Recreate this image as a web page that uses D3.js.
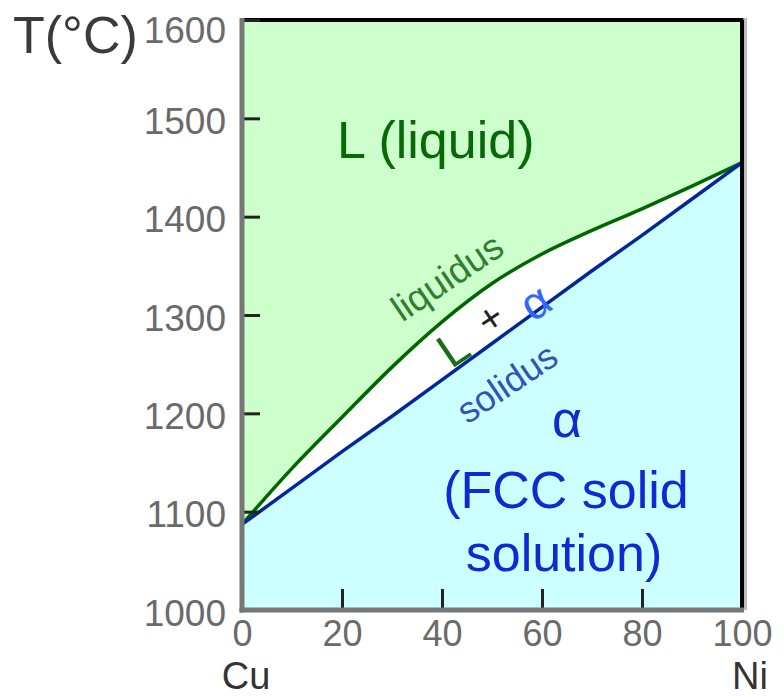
<!DOCTYPE html>
<meta charset="utf-8">
<script src="https://d3js.org/d3.v7.min.js"></script>
<style>
  body { margin: 0; background: #fff; }
  text { font-family: "Liberation Sans", Arial, sans-serif; }
</style>
<div id="my_dataviz"></div>
<script>

// composition, wt% Ni
var composition = [0, 10, 20, 30, 40, 50, 60, 70, 80, 90, 100];
// liquidus and solidus temperatures, deg C
var liquidus = [1087, 1144, 1196, 1247, 1293, 1332, 1362, 1386, 1408, 1431, 1455];
var solidus  = [1087, 1124, 1161, 1197, 1234, 1271, 1308, 1345, 1381, 1418, 1455];
// tick labels
var xTicks = [0, 20, 40, 60, 80, 100];
var yTicks = [1000, 1100, 1200, 1300, 1400, 1500, 1600];

var data = composition.map(function(c, i) {
  return { c: c, liq: liquidus[i], sol: solidus[i] };
});

var W = 784, H = 697;

var svg = d3.select("#my_dataviz")
  .append("svg")
    .attr("width", W)
    .attr("height", H);

var x = d3.scaleLinear().domain([0, 100]).range([242, 742]);
var y = d3.scaleLinear().domain([1000, 1600]).range([610, 20]);

// liquid region (whole plot), then the two phase gap, then alpha region
svg.append("rect")
  .attr("x", x(0)).attr("y", y(1600))
  .attr("width", x(100) - x(0)).attr("height", y(1000) - y(1600))
  .attr("fill", "#ccffcc");

svg.append("path")
  .datum(data)
  .attr("fill", "#ffffff")
  .attr("d", d3.area()
    .curve(d3.curveMonotoneX)
    .x(function(d) { return x(d.c); })
    .y0(function(d) { return y(d.sol); })
    .y1(function(d) { return y(d.liq); }));

svg.append("path")
  .datum(data)
  .attr("fill", "#ccffff")
  .attr("d", d3.area()
    .x(function(d) { return x(d.c); })
    .y0(y(1000))
    .y1(function(d) { return y(d.sol); }));

// phase boundaries
svg.append("path")
  .datum(data)
  .attr("fill", "none")
  .attr("stroke", "#006600")
  .attr("stroke-width", 3.5)
  .attr("d", d3.line()
    .curve(d3.curveMonotoneX)
    .x(function(d) { return x(d.c); })
    .y(function(d) { return y(d.liq); }));

svg.append("path")
  .datum(data)
  .attr("fill", "none")
  .attr("stroke", "#00289c")
  .attr("stroke-width", 3.5)
  .attr("d", d3.line()
    .x(function(d) { return x(d.c); })
    .y(function(d) { return y(d.sol); }));

// frame: grey left/bottom, black top/right with a soft shadow
svg.append("rect")
  .attr("x", x(100) + 2).attr("y", y(1600) - 2)
  .attr("width", 3).attr("height", y(1000) - y(1600) + 2)
  .attr("fill", "#bbbbbb");
svg.append("line")
  .attr("x1", x(0)).attr("x2", x(100) + 1.5)
  .attr("y1", y(1600)).attr("y2", y(1600))
  .attr("stroke", "#000").attr("stroke-width", 4);
svg.append("line")
  .attr("x1", x(100)).attr("x2", x(100))
  .attr("y1", y(1600)).attr("y2", y(1000))
  .attr("stroke", "#000").attr("stroke-width", 4);

// axes
var xAxis = svg.append("g")
  .attr("transform", "translate(0," + y(1000) + ")")
  .call(d3.axisBottom(x).tickValues(xTicks).tickSize(-21).tickPadding(10)
    .tickFormat(d3.format("d")));

var yAxis = svg.append("g")
  .attr("transform", "translate(" + x(0) + ",0)")
  .call(d3.axisLeft(y).tickValues(yTicks).tickSize(-18).tickPadding(16)
    .tickFormat(d3.format("d")));

[xAxis, yAxis].forEach(function(a) {
  a.select(".domain").remove();
  a.selectAll(".tick line").attr("stroke", "#222").attr("stroke-width", 3);
  a.selectAll(".tick text")
    .attr("fill", "#6a6a6a")
    .style("font-size", "37px")
    .style("font-family", "'Liberation Sans', Arial, sans-serif");
});
xAxis.selectAll(".tick text").style("font-size", "36px");
yAxis.selectAll(".tick text")
  .attr("dy", function(d) { return d === 1600 ? "0.6em" : "0.41em"; });
xAxis.selectAll(".tick")
  .filter(function(d) { return d === 0 || d === 100; })
  .select("line").remove();

svg.append("line")
  .attr("x1", x(0)).attr("x2", x(0))
  .attr("y1", y(1600) - 2).attr("y2", y(1000) + 2.5)
  .attr("stroke", "#777").attr("stroke-width", 5);
svg.append("line")
  .attr("x1", x(0) - 2.5).attr("x2", x(100) + 2)
  .attr("y1", y(1000)).attr("y2", y(1000))
  .attr("stroke", "#777").attr("stroke-width", 5);

// axis titles
svg.append("text")
  .attr("x", 13).attr("y", 53)
  .attr("fill", "#3a3a3a")
  .style("font-size", "52px")
  .text("T(°C)");
svg.append("text")
  .attr("x", x(0) + 4).attr("y", 688.8)
  .attr("text-anchor", "middle")
  .attr("fill", "#333")
  .style("font-size", "38px")
  .text("Cu");
svg.append("text")
  .attr("x", x(100) + 8).attr("y", 688.8)
  .attr("text-anchor", "middle")
  .attr("fill", "#333")
  .style("font-size", "38px")
  .text("Ni");

// region labels
svg.append("text")
  .attr("x", 337).attr("y", 158)
  .attr("fill", "#086808")
  .style("font-size", "52px")
  .text("L (liquid)");

var blue = "#0d2bd0";
svg.append("text")
  .attr("x", 567).attr("y", 437)
  .attr("text-anchor", "middle")
  .attr("fill", blue)
  .style("font-size", "52px")
  .text("α");
svg.append("text")
  .attr("x", 566).attr("y", 508)
  .attr("text-anchor", "middle")
  .attr("fill", blue)
  .style("font-size", "52px")
  .text("(FCC solid");
svg.append("text")
  .attr("x", 564).attr("y", 571)
  .attr("text-anchor", "middle")
  .attr("fill", blue)
  .style("font-size", "52px")
  .text("solution)");

// labels along the boundaries
function tilted(cx, cy, size, color, str) {
  svg.append("text")
    .attr("transform", "translate(" + cx + "," + cy + ") rotate(-34)")
    .attr("text-anchor", "middle")
    .attr("dy", "0.35em")
    .attr("fill", color)
    .style("font-size", size + "px")
    .text(str);
}
tilted(447, 277, 37, "#2f7f2f", "liquidus");
tilted(507, 383, 36, "#3352b5", "solidus");
tilted(453, 348, 48, "#1a6e1a", "L");
tilted(490, 318, 40, "#222", "+");
tilted(535, 302, 46, "#3366ff", "α");

</script>
